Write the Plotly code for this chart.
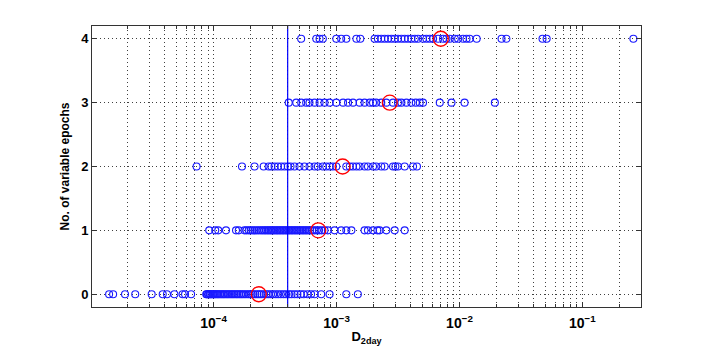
import plotly.graph_objects as go

# D_2day values for each number of variable epochs
d_epochs0 = [1.41e-5, 1.52e-5, 1.90e-5, 2.30e-5, 3.13e-5, 3.85e-5, 4.17e-5, 4.79e-5,
             5.59e-5, 5.85e-5, 6.55e-5,
             8.7e-5, 8.8e-5, 9.0e-5, 9.1e-5, 9.3e-5, 9.4e-5, 9.6e-5, 9.8e-5, 1.0e-4,
             1.02e-4, 1.04e-4, 1.07e-4, 1.09e-4, 1.12e-4, 1.15e-4, 1.18e-4, 1.21e-4,
             1.24e-4, 1.28e-4, 1.31e-4, 1.35e-4, 1.39e-4, 1.43e-4, 1.47e-4, 1.52e-4,
             1.56e-4, 1.61e-4, 1.66e-4, 1.71e-4, 1.77e-4, 1.83e-4, 1.90e-4, 1.96e-4,
             2.03e-4, 2.10e-4, 2.18e-4, 2.27e-4, 2.36e-4, 2.45e-4, 2.56e-4, 2.68e-4,
             2.79e-4, 2.92e-4, 3.05e-4, 3.20e-4, 3.35e-4, 3.52e-4, 3.70e-4, 3.88e-4,
             4.10e-4, 4.30e-4, 4.55e-4, 4.80e-4, 5.10e-4, 5.40e-4, 5.80e-4, 6.20e-4,
             6.63e-4, 7.50e-4, 8.77e-4, 1.20e-3, 1.49e-3]
d_epochs1 = [9.2e-5, 1.03e-4, 1.09e-4, 1.26e-4, 1.52e-4, 1.60e-4,
             1.78e-4, 1.85e-4, 1.93e-4, 2.00e-4, 2.08e-4, 2.16e-4, 2.25e-4, 2.33e-4,
             2.42e-4, 2.50e-4, 2.58e-4, 2.66e-4, 2.74e-4, 2.82e-4, 2.90e-4, 2.98e-4,
             3.06e-4, 3.15e-4, 3.24e-4, 3.33e-4, 3.42e-4, 3.52e-4, 3.62e-4, 3.72e-4,
             3.83e-4, 3.94e-4, 4.05e-4, 4.17e-4, 4.29e-4, 4.41e-4, 4.54e-4, 4.67e-4,
             4.80e-4, 4.95e-4, 5.10e-4, 5.25e-4, 5.40e-4, 5.56e-4, 5.73e-4, 5.90e-4,
             6.10e-4, 6.35e-4, 6.60e-4, 6.90e-4, 7.20e-4, 7.55e-4, 7.98e-4,
             8.49e-4, 9.63e-4, 1.09e-3, 1.20e-3, 1.32e-3, 1.69e-3, 1.80e-3, 1.98e-3,
             2.15e-3, 2.24e-3, 2.54e-3, 2.97e-3, 3.58e-3]
d_epochs2 = [7.26e-5, 1.70e-4, 2.15e-4, 2.55e-4, 2.80e-4, 2.95e-4,
             3.13e-4, 3.33e-4, 3.54e-4, 3.77e-4, 4.01e-4, 4.22e-4, 4.55e-4, 4.99e-4,
             5.48e-4, 6.02e-4, 6.62e-4, 7.05e-4, 7.73e-4, 8.24e-4, 8.77e-4, 9.33e-4,
             9.95e-4, 1.20e-3, 1.28e-3, 1.36e-3, 1.45e-3, 1.54e-3, 1.69e-3, 1.80e-3,
             1.98e-3, 2.10e-3, 2.31e-3, 2.46e-3, 2.88e-3, 3.01e-3, 3.16e-3, 3.58e-3,
             4.19e-3, 4.51e-3]
d_epochs3 = [4.08e-4, 4.70e-4, 5.16e-4, 5.66e-4, 6.02e-4, 6.62e-4, 7.27e-4, 7.98e-4,
             8.77e-4, 9.95e-4, 1.13e-3, 1.24e-3, 1.36e-3, 1.54e-3, 1.69e-3, 1.86e-3,
             1.98e-3, 2.10e-3, 2.31e-3, 2.54e-3, 2.88e-3, 3.16e-3, 3.37e-3, 3.70e-3,
             4.06e-3, 4.41e-3, 4.75e-3, 5.05e-3, 6.91e-3, 8.61e-3, 1.10e-2, 1.94e-2]
d_epochs4 = [5.15e-4, 6.84e-4, 7.27e-4, 7.73e-4, 9.95e-4, 1.09e-3, 1.20e-3, 1.45e-3,
             1.56e-3, 2.04e-3, 2.17e-3, 2.31e-3, 2.46e-3, 2.62e-3, 2.79e-3, 2.97e-3,
             3.16e-3, 3.37e-3, 3.58e-3, 3.81e-3, 4.06e-3, 4.33e-3, 4.60e-3, 5.05e-3,
             5.38e-3, 5.73e-3, 6.10e-3, 6.70e-3, 7.35e-3, 7.83e-3, 8.34e-3, 9.16e-3,
             9.75e-3, 1.07e-2, 1.14e-2, 1.21e-2, 1.38e-2, 2.20e-2, 2.41e-2, 4.74e-2,
             5.12e-2, 0.260]

epochs = [0, 1, 2, 3, 4]
medians = [2.33e-4, 7.10e-4, 1.12e-3, 2.71e-3, 7.05e-3]
threshold = 4.0e-4

decades = [1e-4, 1e-3, 1e-2, 1e-1]
decade_labels = ["10<sup>−4</sup>", "10<sup>−3</sup>", "10<sup>−2</sup>", "10<sup>−1</sup>"]
minor_vals = [m * 10.0 ** e for e in range(-5, 0) for m in range(2, 10)]

fig = go.Figure()

for n, d in zip(epochs, [d_epochs0, d_epochs1, d_epochs2, d_epochs3, d_epochs4]):
    fig.add_trace(go.Scatter(
        x=d, y=[n] * len(d), mode="markers",
        marker=dict(symbol="circle-open", size=7, color="#1a1aff",
                    line=dict(width=1.1, color="#1a1aff")),
        showlegend=False))

fig.add_trace(go.Scatter(
    x=[threshold, threshold], y=[-0.2, 4.2], mode="lines",
    line=dict(color="#0000ff", width=1.2), showlegend=False))

fig.add_trace(go.Scatter(
    x=medians, y=epochs, mode="markers",
    marker=dict(symbol="circle-open", size=15, color="#ff0000",
                line=dict(width=1.3, color="#ff0000")),
    showlegend=False))

grid = dict(showgrid=True, gridcolor="rgba(0,0,0,0.75)", griddash="1px,3px", gridwidth=1)
axis_common = dict(showline=True, linecolor="#333", linewidth=1, mirror="ticks",
                   ticks="inside", tickcolor="#333", zeroline=False, automargin=False)

fig.update_xaxes(type="log", range=[-4.99, -0.523], tickmode="array",
                 tickvals=decades, ticktext=[f"<b>{t}</b>" for t in decade_labels],
                 ticklen=5, ticklabelstandoff=3,
                 tickfont=dict(family="Liberation Sans", size=14, color="black"),
                 minor=dict(tickvals=minor_vals, ticks="inside", ticklen=3,
                            tickcolor="#333", **grid),
                 title=dict(text="<b>D<sub>2day</sub></b>", standoff=2,
                            font=dict(family="Liberation Sans", size=13, color="black")),
                 **grid, **axis_common)
fig.update_yaxes(range=[-0.2, 4.2], tickmode="array", tickvals=epochs,
                 ticktext=[f"<b>{v}</b>" for v in epochs], ticklen=5,
                 tickfont=dict(family="Liberation Sans", size=13, color="black"),
                 title=dict(text="<b>No. of variable epochs</b>", standoff=8,
                            font=dict(family="Liberation Sans", size=12, color="black")),
                 **grid, **axis_common)

# the page has an 8px body margin, so the figure is 8px smaller on each side
fig.update_layout(width=700, height=340, plot_bgcolor="white", paper_bgcolor="white",
                  margin=dict(l=84, r=67, t=18, b=41))

fig.write_html("out.html")
